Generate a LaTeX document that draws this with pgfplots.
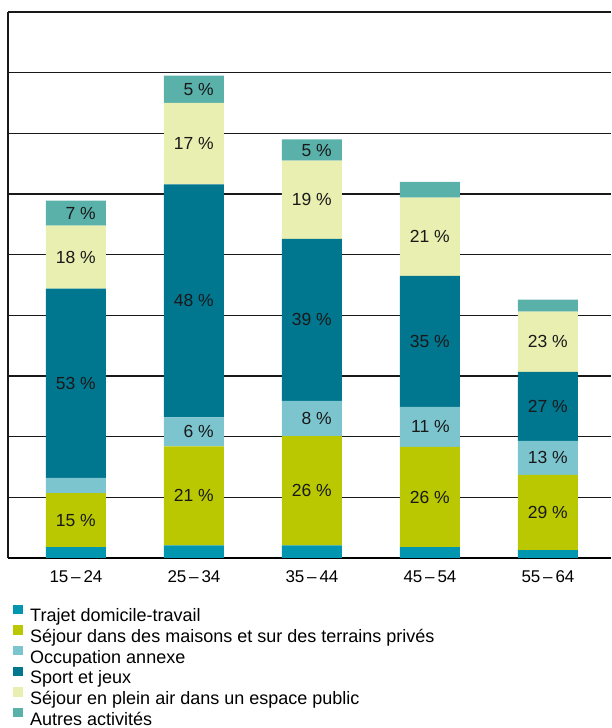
\documentclass[border=0pt]{standalone}
\usepackage{fontspec}
\setmainfont{Liberation Sans}
\usepackage{pgfplots}
\pgfplotsset{compat=1.18}

\definecolor{trajet}{HTML}{0096AF}
\definecolor{maisons}{HTML}{B9C800}
\definecolor{annexe}{HTML}{7CC5CF}
\definecolor{sport}{HTML}{00768F}
\definecolor{pleinair}{HTML}{E9EFB0}
\definecolor{autres}{HTML}{59B1AA}

\begin{document}
\begin{tikzpicture}
\pgfplotsset{
  base/.style={width=603pt, height=546pt, scale only axis,
    xmin=-0.576, xmax=4.534, ymin=0, ymax=9,
    at={(0,0)}, anchor=south west},
  sq/.style={draw=none, legend image code/.code={\fill[##1] (0pt,3.7pt) rectangle (9.5pt,13pt);}},
}
\begin{axis}[base, set layers,
  ybar stacked, bar width=60pt,
  axis x line*=bottom, axis y line*=left,
  x axis line style={line width=1.8pt, black, /pgfplots/on layer=axis foreground},
  y axis line style={line width=1.3pt, black!90, /pgfplots/on layer=axis foreground},
  ytick={1,...,9}, yticklabels={}, ymajorgrids,
  grid style={line width=1.1pt, black!90},
  major tick length=0pt,
  xtick={0,...,4},
  xticklabels={15\,–\,24, 25\,–\,34, 35\,–\,44, 45\,–\,54, 55\,–\,64},
  tick label style={font=\fontsize{17}{20}\selectfont},
  xticklabel style={yshift=-9pt},
  legend cell align=left,
  legend style={at={(axis description cs:0.0083,-0.0850)}, anchor=north west,
    draw=none, fill=none, inner sep=0pt, row sep=-0.6pt, column sep=7.5pt,
    font=\fontsize{18}{20}\selectfont,
    nodes={inner sep=0pt, text height=12.5pt, text depth=4pt}},
]
\addplot[sq, fill=trajet] coordinates {(0,0.18) (1,0.21) (2,0.21) (3,0.18) (4,0.13)};
\addplot[sq, fill=maisons] coordinates {(0,0.89) (1,1.63) (2,1.80) (3,1.65) (4,1.24)};
\addplot[sq, fill=annexe] coordinates {(0,0.25) (1,0.48) (2,0.58) (3,0.66) (4,0.56)};
\addplot[sq, fill=sport] coordinates {(0,3.12) (1,3.84) (2,2.67) (3,2.16) (4,1.14)};
\addplot[sq, fill=pleinair] coordinates {(0,1.04) (1,1.34) (2,1.29) (3,1.29) (4,0.99)};
\addplot[sq, fill=autres] coordinates {(0,0.41) (1,0.45) (2,0.35) (3,0.26) (4,0.20)};
\legend{Trajet domicile-travail, Séjour dans des maisons et sur des terrains privés,
  Occupation annexe, Sport et jeux, Séjour en plein air dans un espace public, Autres activités}
\end{axis}
\begin{axis}[base, hide axis]
\addplot[draw=none, mark=none, nodes near coords, point meta=explicit symbolic,
  every node near coord/.style={anchor=east, xshift=20pt, inner sep=0pt,
    font=\fontsize{17.5}{20}\selectfont, text=black!90}]
  coordinates {
  (0,0.625) [15 \%] (0,2.88) [53 \%] (0,4.96) [18 \%] (0,5.685) [7 \%]
  (1,1.025) [21 \%] (1,2.08) [6 \%] (1,4.24) [48 \%] (1,6.83) [17 \%] (1,7.725) [5 \%]
  (2,1.11) [26 \%] (2,2.30) [8 \%] (2,3.925) [39 \%] (2,5.905) [19 \%] (2,6.725) [5 \%]
  (3,1.005) [26 \%] (3,2.16) [11 \%] (3,3.57) [35 \%] (3,5.295) [21 \%]
  (4,0.75) [29 \%] (4,1.65) [13 \%] (4,2.50) [27 \%] (4,3.565) [23 \%]
  };
\end{axis}
\pgfresetboundingbox
\path[use as bounding box] (-8pt,-170pt) rectangle (603pt,558pt);
\end{tikzpicture}
\end{document}
